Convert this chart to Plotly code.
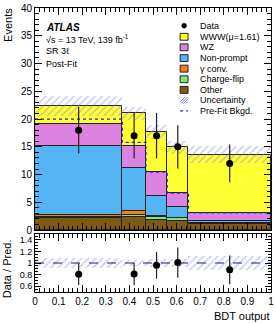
import numpy as np
import plotly.graph_objects as go

# ---------------- data ----------------
bin_edges = [0.0, 0.37, 0.47, 0.56, 0.65, 1.0]
other = [2.2, 2.35, 1.8, 1.7, 1.1]
charge_flip = [0.1, 0.4, 0.5, 0.4, 0.15]
gamma_conv = [0.5, 0.6, 0.15, 0.1, 0.05]
non_prompt = [12.3, 7.75, 3.75, 1.9, 0.4]
wz = [4.0, 4.0, 4.2, 2.5, 1.36]
www = [3.2, 5.9, 7.3, 8.3, 10.55]
uncertainty = [1.8, 1.2, 1.3, 1.15, 1.6]
prefit_bkgd = [20.0, 15.8, 10.45, 6.65, 3.1]
data = [18.0, 17.0, 17.0, 15.0, 12.0]
data_err = [4.2, 4.1, 4.1, 3.9, 3.4]

x_ticks = [0, 0.1, 0.2, 0.3, 0.4, 0.5, 0.6, 0.7, 0.8, 0.9, 1]
x_tick_labels = ["0", "0.1", "0.2", "0.3", "0.4", "0.5", "0.6", "0.7", "0.8", "0.9", "1"]
y_ticks = [0, 5, 10, 15, 20, 25, 30, 35, 40]
ratio_ticks = [0.6, 0.8, 1.0, 1.2, 1.4]
ratio_tick_labels = ["0.6", "0.8", "1", "1.2", "1.4"]

layers = [
    ("Other", other, "#7d5a14"),
    ("Charge-flip", charge_flip, "#7ee87e"),
    ("γ conv.", gamma_conv, "#ff7a10"),
    ("Non-prompt", non_prompt, "#55b4f2"),
    ("WZ", wz, "#dc82e0"),
    ("WWW(μ=1.61)", www, "#ffff33"),
]

edges = np.array(bin_edges)
centers = 0.5 * (edges[:-1] + edges[1:])
widths = np.diff(edges)

FONT = "Liberation Sans, Arial, Helvetica, sans-serif"
HATCH = "#8080f0"

fig = go.Figure()

base = np.zeros(len(centers))
for name, vals, col in layers:
    v = np.array(vals)
    fig.add_trace(go.Bar(
        x=centers, y=v, base=base, width=widths, name=name,
        marker=dict(color=col, line=dict(color="#222222", width=1)),
        showlegend=False, xaxis="x", yaxis="y", hoverinfo="skip"))
    base = base + v
total = base

unc = np.array(uncertainty)
fig.add_trace(go.Bar(
    x=centers, y=2 * unc, base=total - unc, width=widths,
    marker=dict(color="rgba(0,0,0,0)", line=dict(width=0),
                pattern=dict(shape="/", fgcolor=HATCH, bgcolor="rgba(0,0,0,0)",
                             size=5, solidity=0.25, fillmode="overlay")),
    showlegend=False, xaxis="x", yaxis="y", hoverinfo="skip"))

pf = np.array(prefit_bkgd)
fig.add_trace(go.Scatter(
    x=edges, y=np.append(pf, pf[-1]), mode="lines", line_shape="hv",
    line=dict(color="#2222ee", width=1.3, dash="dot"),
    showlegend=False, xaxis="x", yaxis="y", hoverinfo="skip"))

d = np.array(data)
de = np.array(data_err)
fig.add_trace(go.Scatter(
    x=centers, y=d, mode="markers",
    marker=dict(color="black", size=7),
    error_y=dict(type="data", array=de, width=0, thickness=1.2, color="#222222"),
    showlegend=False, xaxis="x", yaxis="y", hoverinfo="skip"))

# ratio panel
rel = unc / total
fig.add_trace(go.Bar(
    x=centers, y=2 * rel, base=1 - rel, width=widths,
    marker=dict(color="rgba(0,0,0,0)", line=dict(width=0),
                pattern=dict(shape="/", fgcolor=HATCH, bgcolor="rgba(0,0,0,0)",
                             size=5, solidity=0.25, fillmode="overlay")),
    showlegend=False, xaxis="x2", yaxis="y2", hoverinfo="skip"))
fig.add_trace(go.Scatter(
    x=[edges[0], edges[-1]], y=[1, 1], mode="lines",
    line=dict(color="#1a1a80", width=1, dash="dash"),
    showlegend=False, xaxis="x2", yaxis="y2", hoverinfo="skip"))
fig.add_trace(go.Scatter(
    x=centers, y=d / total, mode="markers",
    marker=dict(color="black", size=7),
    error_y=dict(type="data", array=de / total, width=0, thickness=1.2, color="#222222"),
    showlegend=False, xaxis="x2", yaxis="y2", hoverinfo="skip"))

# ---------------- layout ----------------
W, H = 276, 324
L, R, T, B = 35, 274, 3, 292


def px(xp):
    return (xp - L) / (R - L)


def py(yp):
    return (B - yp) / (B - T)


axis_common = dict(showline=True, linecolor="black", linewidth=1, mirror="allticks",
                   ticks="inside", tickcolor="black", showgrid=False, zeroline=False,
                   ticklabeloverflow="allow")

fig.update_layout(
    width=W, height=H,
    margin=dict(l=L, r=W - R, t=T, b=H - B),
    paper_bgcolor="white", plot_bgcolor="white",
    barmode="overlay", bargap=0,
    font=dict(family=FONT, color="black"),
    xaxis=dict(domain=[0, 1], range=[0, 1], anchor="y", matches="x2",
               tickvals=x_ticks, showticklabels=False, ticklen=7,
               minor=dict(dtick=0.02, ticks="inside", ticklen=4, tickcolor="black"),
               **axis_common),
    yaxis=dict(domain=[py(229), 1], range=[0, 40], anchor="x",
               tickvals=y_ticks, ticklen=7, tickfont=dict(size=10),
               minor=dict(dtick=1, ticks="inside", ticklen=4, tickcolor="black"),
               **axis_common),
    xaxis2=dict(domain=[0, 1], range=[0, 1], anchor="y2",
                tickvals=x_ticks, ticktext=x_tick_labels, ticklen=7, tickfont=dict(size=10),
                minor=dict(dtick=0.02, ticks="inside", ticklen=4, tickcolor="black"),
                **axis_common),
    yaxis2=dict(domain=[0, py(233)], range=[0.5, 1.5], anchor="x2",
                tickvals=ratio_ticks, ticktext=ratio_tick_labels, ticklen=6,
                tickfont=dict(size=9),
                minor=dict(dtick=0.05, ticks="inside", ticklen=3, tickcolor="black"),
                **axis_common),
)

ann = []
shapes = []


def text(x, y, s, size=9, xanchor="left", yanchor="middle", angle=0):
    ann.append(dict(x=x, y=y, xref="paper", yref="paper", text=s, showarrow=False,
                    xanchor=xanchor, yanchor=yanchor, textangle=angle,
                    font=dict(size=size, family=FONT, color="black")))


text(px(7.5), py(1), "Events", size=11, xanchor="center", yanchor="top", angle=-90)
text(px(7.5), py(268), "Data / Pred.", size=11, xanchor="center", yanchor="middle", angle=-90)
text(px(274), py(316), "BDT output", size=11, xanchor="right", yanchor="middle")

text(px(44), py(22.5), "<b><i>ATLAS</i></b>", size=10)
text(px(44), py(35), "√s = 13 TeV, 139 fb<sup>-1</sup>", size=9)
text(px(44), py(47), "SR 3ℓ", size=9)
text(px(44), py(60), "Post-Fit", size=9)

# manual legend
leg_x0, leg_x1 = 182, 190
tx = 200
rows = [21, 32.3, 43, 54, 64.7, 75.5, 86.3, 97, 107.7]
labels = ["Data"] + [n for n, _, _ in layers[::-1]] + ["Uncertainty", "Pre-Fit Bkgd."]
for yc, lab in zip(rows, labels):
    text(px(tx), py(yc), lab, size=9)

# data marker in legend
shapes.append(dict(type="circle", xref="paper", yref="paper",
                   x0=px(183.5), x1=px(188.5), y0=py(23.5), y1=py(18.5),
                   fillcolor="black", line=dict(color="black", width=0.5)))
for (name, vals, col), yc in zip(layers[::-1], rows[1:7]):
    shapes.append(dict(type="rect", xref="paper", yref="paper",
                       x0=px(leg_x0), x1=px(leg_x1), y0=py(yc + 3.5), y1=py(yc - 3.5),
                       fillcolor=col, line=dict(color="#222222", width=1)))
# uncertainty swatch: hatch lines
yc = rows[7]
for k in range(4):
    xa = leg_x0 + 2.5 * k - 2
    shapes.append(dict(type="line", xref="paper", yref="paper",
                       x0=px(max(xa, leg_x0)), y0=py(yc + 3.5 - (max(xa, leg_x0) - xa)),
                       x1=px(min(xa + 7, leg_x1)), y1=py(yc + 3.5 - (min(xa + 7, leg_x1) - xa)),
                       line=dict(color=HATCH, width=1)))
# pre-fit line swatch
yc = rows[8]
shapes.append(dict(type="line", xref="paper", yref="paper",
                   x0=px(leg_x0), x1=px(leg_x1), y0=py(yc), y1=py(yc),
                   line=dict(color="#2222ee", width=1.3, dash="dot")))

fig.update_layout(annotations=ann, shapes=shapes)

fig.write_html("out.html",
               config={"displayModeBar": False},
               post_script="document.body.style.margin='0';document.body.style.overflow='hidden';")
